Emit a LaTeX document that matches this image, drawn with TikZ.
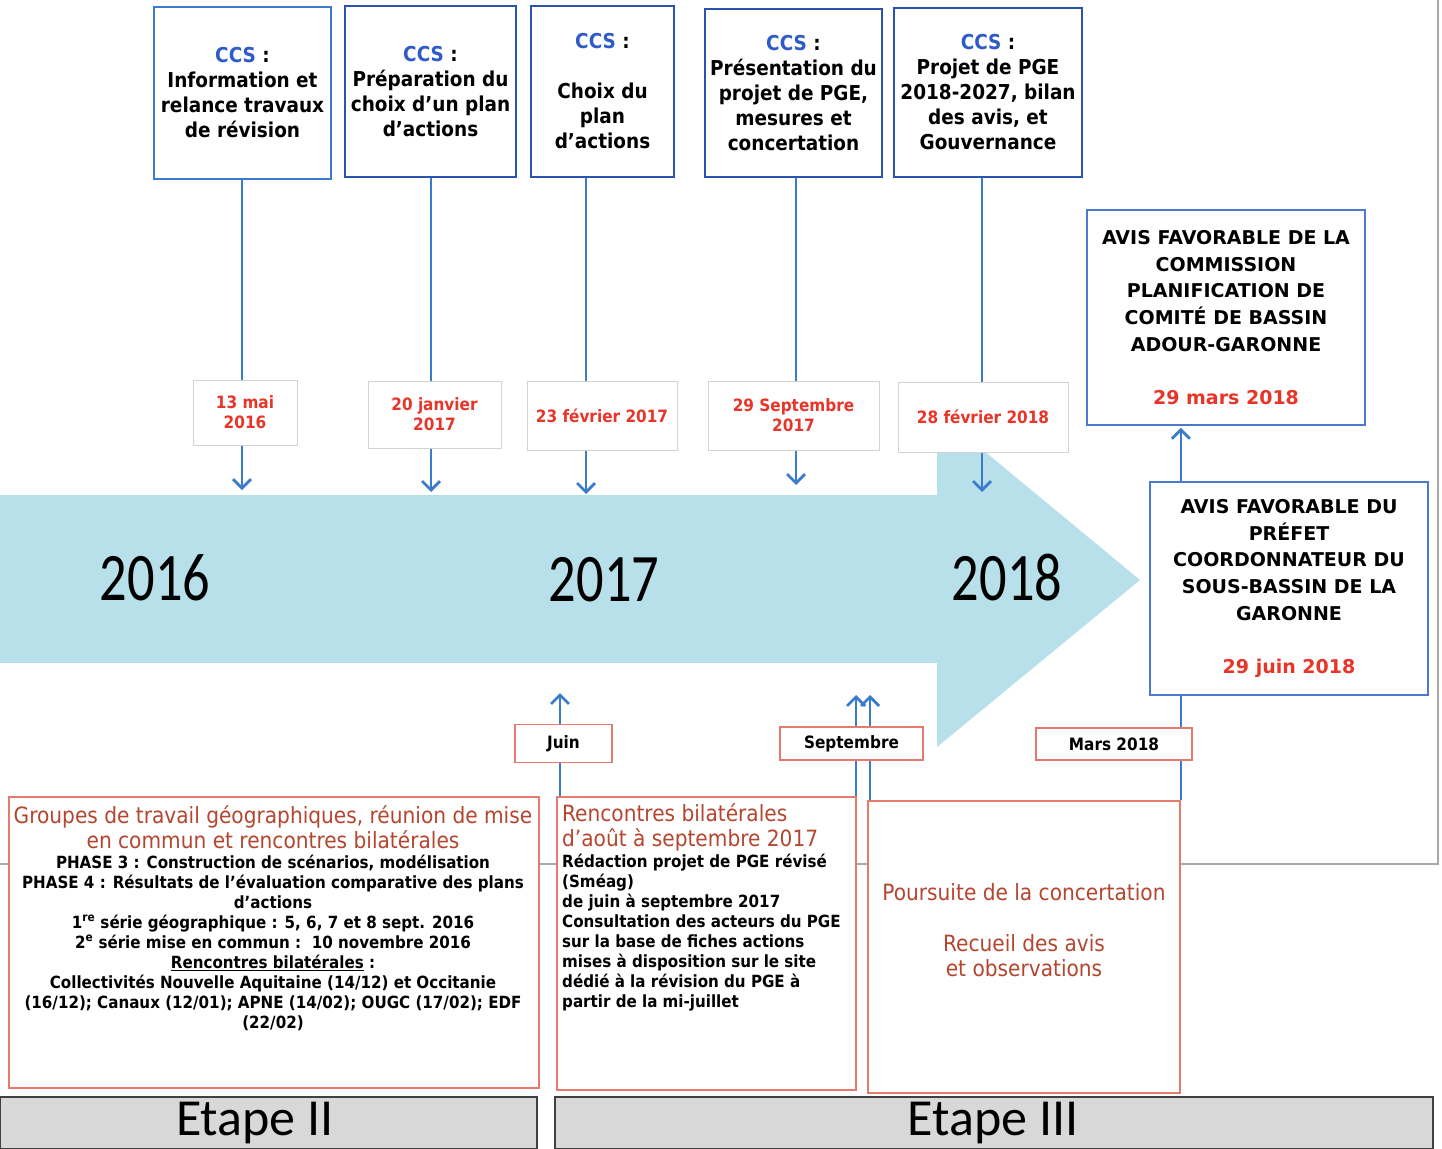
\documentclass[tikz,border=0pt]{standalone}
\usepackage{fontspec}
\setmainfont{DejaVu Sans Condensed}
\newfontfamily\carl{Carlito}
\newfontfamily\dvs{DejaVu Sans}
\usetikzlibrary{arrows.meta}
\definecolor{ccsdark}{HTML}{2A52B0}
\definecolor{ccslight}{HTML}{3C7BD0}
\definecolor{ccstext}{HTML}{2E5BC8}
\definecolor{conncol}{HTML}{3A7CCB}
\definecolor{datered}{HTML}{E8352A}
\definecolor{dategray}{HTML}{D2D2D2}
\definecolor{salmon}{HTML}{E77A6C}
\definecolor{titlered}{HTML}{B4462F}
\definecolor{avisblue}{HTML}{4A7AD0}
\definecolor{arrowfill}{HTML}{B8E0EA}
\definecolor{bargray}{HTML}{D8D8D8}
\definecolor{framecol}{HTML}{A8A8A8}
\newcommand\ccslbl{{\color{ccstext}CCS} :}
\newcommand\yr[1]{\scalebox{0.8}[1]{\carl\fontsize{68}{68}\selectfont #1}}
\tikzset{
  ccsbox/.style={draw=#1, line width=2.6pt, fill=white, align=center, inner sep=0pt,
    font=\bfseries\fontsize{20.5}{25}\selectfont},
  datebox/.style={draw=dategray, line width=1pt, fill=white, align=center, inner sep=0pt,
    text=datered, font=\bfseries\fontsize{17}{20}\selectfont},
  monthbox/.style={draw=salmon, line width=1.6pt, fill=white, inner sep=0pt,
    font=\bfseries\fontsize{17}{20}\selectfont},
  avisbox/.style={draw=avisblue, line width=1.5pt, fill=white, align=center, inner sep=0pt,
    font=\dvs\bfseries\fontsize{19}{26.7}\selectfont},
  redbox/.style={draw=salmon, line width=1.8pt, fill=white, inner sep=0pt},
  titletext/.style={inner sep=0pt, text=titlered, font=\fontsize{22.4}{25}\selectfont},
  bodytext/.style={inner sep=0pt, font=\bfseries\fontsize{16.8}{20}\selectfont},
  etapebar/.style={draw=black!75, line width=1.2pt, fill=bargray, inner sep=0pt},
  etapetext/.style={inner sep=0pt, font=\carl\fontsize{52}{52}\selectfont},
  conn/.style={draw=conncol, line width=2.8pt},
  tip/.style={-{Straight Barb[length=9pt,width=18pt]}},
  yearlbl/.style={inner sep=0pt}
}
\begin{document}
\begin{tikzpicture}[x=1pt,y=-1pt]
\useasboundingbox (0,0) rectangle (1442,1148);
\fill[white] (0,0) rectangle (1442,1148);
% slide frame
\draw[framecol,line width=1.2pt] (0,864) -- (1438,864) -- (1438,0);
% big arrow
\fill[arrowfill] (0,495) -- (937,495) -- (937,412) -- (1140,580) -- (937,747) -- (937,663) -- (0,663) -- cycle;
\node[yearlbl] (y16) at (155,578) {\yr{2016}};
\node[yearlbl] (y17) at (604,580) {\yr{2017}};
\node[yearlbl] (y18) at (1007,578) {\yr{2018}};

% CCS boxes
\node[ccsbox=ccslight, line width=2.2pt, minimum width=177, minimum height=172] (c1) at (242.5,93)
  {\ccslbl\\Information et\\relance travaux\\de révision};
\node[ccsbox=ccsdark, minimum width=171, minimum height=171] (c2) at (430.5,91.5)
  {\ccslbl\\Préparation du\\choix d'un plan\\d'actions};
\node[ccsbox=ccsdark, minimum width=143, minimum height=171] (c3) at (602.5,91.5)
  {\ccslbl\\~\\Choix du\\plan\\d'actions};
\node[ccsbox=ccsdark, minimum width=177, minimum height=168] (c4) at (793.5,93)
  {\ccslbl\\Présentation du\\projet de PGE,\\mesures et\\concertation};
\node[ccsbox=ccsdark, minimum width=188, minimum height=169] (c5) at (988,92.5)
  {\ccslbl\\Projet de PGE\\2018-2027, bilan\\des avis, et\\Gouvernance};

% date boxes
\node[datebox, minimum width=104, minimum height=65] (d1) at (245,412.5) {13 mai\\2016};
\node[datebox, minimum width=133, minimum height=67] (d2) at (434.5,414.5) {20 janvier\\2017};
\node[datebox, minimum width=150, minimum height=69] (d3) at (602,415.5) {23 février 2017};
\node[datebox, minimum width=171, minimum height=69] (d4) at (793.5,415.5) {29 Septembre\\2017};
\node[datebox, minimum width=170, minimum height=70] (d5) at (983,417) {28 février 2018};

\coordinate (x1) at (242,0);
\coordinate (x2) at (431,0);
\coordinate (x3) at (586,0);
\coordinate (x4) at (796,0);
\coordinate (x5) at (982,0);
\coordinate (a1) at (242,490);
\coordinate (a2) at (431,492);
\coordinate (a3) at (586,494);
\coordinate (a4) at (796,485);
\coordinate (a5) at (982,492);
\foreach \i in {1,...,5}{
  \draw[conn] (c\i.south -| x\i) -- (d\i.north -| x\i);
  \draw[conn,tip] (d\i.south -| x\i) -- (a\i);
}

% right boxes
\node[avisbox, minimum width=278, minimum height=215] (A) at (1226,317.5)
  {AVIS FAVORABLE DE LA\\COMMISSION\\PLANIFICATION DE\\COMITÉ DE BASSIN\\ADOUR-GARONNE\\~\\{\color{datered}29 mars 2018}};
\node[avisbox, minimum width=278, minimum height=213] (B) at (1289,588.5)
  {AVIS FAVORABLE DU\\PRÉFET\\COORDONNATEUR DU\\SOUS-BASSIN DE LA\\GARONNE\\~\\{\color{datered}29 juin 2018}};

% bottom boxes
\node[redbox, minimum width=530, minimum height=291] (L) at (274,942.5) {};
\node[redbox, minimum width=299, minimum height=293] (M) at (706.5,943.5) {};
\node[redbox, minimum width=312, minimum height=292] (R) at (1024,947) {};

\node[titletext, align=center] (Lt) at (273,827.5)
  {Groupes de travail géographiques, réunion de mise\\en commun et rencontres bilatérales};
\node[bodytext, align=center] (Lb) at (273,942.5)
  {PHASE 3 : Construction de scénarios, modélisation\\
   PHASE 4 : Résultats de l’évaluation comparative des plans\\
   d’actions\\
   1\textsuperscript{re} série géographique : 5, 6, 7 et 8 sept. 2016\\
   2\textsuperscript{e} série mise en commun :~~10 novembre 2016\\
   \underline{Rencontres bilatérales} :\\
   Collectivités Nouvelle Aquitaine (14/12) et Occitanie\\
   (16/12); Canaux (12/01); APNE (14/02); OUGC (17/02); EDF\\
   (22/02)};
\node[titletext, align=left, anchor=west] (Mt) at (562,827.5)
  {Rencontres bilatérales\\d'août à septembre 2017};
\node[bodytext, align=left, anchor=west] (Mb) at (562,932.5)
  {Rédaction projet de PGE révisé\\
   (Sméag)\\
   de juin à septembre 2017\\
   Consultation des acteurs du PGE\\
   sur la base de fiches actions\\
   mises à disposition sur le site\\
   dédié à la révision du PGE à\\
   partir de la mi-juillet};
\node[titletext] (Rt) at (1024,892) {Poursuite de la concertation};
\node[titletext, align=center] (Rb) at (1024,955.5) {Recueil des avis\\et observations};

% connectors from bottom boxes
\coordinate (uj) at (560,693);
\coordinate (us1) at (856,695);
\coordinate (us2) at (870,695);
\draw[conn,tip] (M.north west -| uj) -- (uj);
\draw[conn,tip] (M.north east -| us1) -- (us1);
\draw[conn,tip] (R.north west -| us2) -- (us2);
\draw[conn] (R.north east) -- (B.south -| R.north east);
\draw[conn,tip] (B.north -| R.north east) -- ([yshift=-2pt]A.south -| R.north east);

% month boxes
\node[monthbox, minimum width=97, minimum height=38] (mj) at (563.5,743.5) {\raisebox{3pt}{Juin}};
\node[monthbox, minimum width=143, minimum height=33] (ms) at (851.5,743.5) {Septembre};
\node[monthbox, minimum width=156, minimum height=32] (mm) at (1114,744) {Mars 2018};

% etapes
\node[etapebar, minimum width=537, minimum height=52] (E2) at (268.5,1123) {};
\node[etapebar, minimum width=878, minimum height=52] (E3) at (994,1123) {};
\node[etapetext] (E2t) at (255,1123) {Etape II};
\node[etapetext] (E3t) at (993,1123) {Etape III};
\end{tikzpicture}
\end{document}
